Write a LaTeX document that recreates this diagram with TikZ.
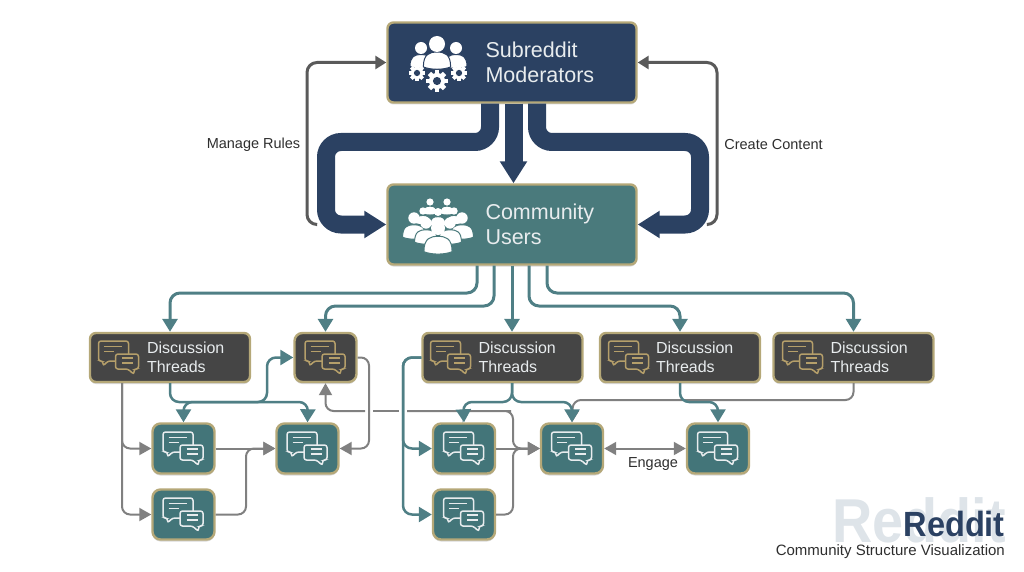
\documentclass[tikz,border=0pt]{standalone}
\usepackage{fontspec}
\setmainfont{Liberation Sans}
\usetikzlibrary{arrows.meta,shadows}

\definecolor{navy}{HTML}{2B4162}
\definecolor{tealbox}{HTML}{4A7A7C}
\definecolor{tealsmall}{HTML}{437579}
\definecolor{darkbox}{HTML}{454545}
\definecolor{tan}{HTML}{B5A878}
\definecolor{tanicon}{HTML}{B59F6A}
\definecolor{tealline}{HTML}{4F7F85}
\definecolor{greyline}{HTML}{808080}
\definecolor{greydark}{HTML}{5A5A5A}
\definecolor{ink}{HTML}{2E2E2E}
\definecolor{paletxt}{HTML}{E8ECEE}
\definecolor{ghost}{HTML}{DEE4E9}

\newcommand{\crowdman}[5]{
  \begin{scope}[shift={(#1,#2)}]
    \begin{scope}[scale=#3]
      \fill[white,draw=#4,line width=1pt] (-2.2,3.7) .. controls (-2.2,1.6) and (-1.2,1.3) .. (0,1.3)
        .. controls (1.2,1.3) and (2.2,1.6) .. (2.2,3.7) .. controls (1,4.2) and (-1,4.2) .. (-2.2,3.7) -- cycle;
    \end{scope}
    \fill[white] (0,0) circle (#5);
  \end{scope}
}
\newcommand{\gearwheel}[3]{
  \begin{scope}[shift={(#1,#2)},scale=#3]
    \foreach \a in {0,45,...,315}
      \fill[white,rotate=\a] (-.28,-1.25) rectangle (.28,0);
    \fill[white] (0,0) circle (.95);
    \fill[navy] (0,0) circle (.48);
  \end{scope}
}

\tikzset{
  box/.style={draw=tan,line width=2.4pt,rounded corners=6pt,inner sep=0pt,
    drop shadow={opacity=.3,shadow xshift=0pt,shadow yshift=-2pt}},
  mainbox/.style={box,minimum width=249pt,minimum height=80pt},
  threadbox/.style={box,fill=darkbox,minimum width=160pt,minimum height=49pt},
  chatbox/.style={box,fill=tealsmall,rounded corners=8pt,minimum width=62pt,minimum height=50pt},
  maintext/.style={anchor=west,align=left,text=paletxt,inner sep=0pt,font=\fontsize{21.5}{25}\selectfont},
  threadtext/.style={anchor=west,align=left,text=paletxt,inner sep=0pt,font=\fontsize{16}{19}\selectfont},
  sidetext/.style={text=ink,inner sep=0pt,font=\fontsize{14.5}{17}\selectfont},
  fat/.style={navy,line width=18pt,rounded corners=15pt,-{Triangle[length=22pt,width=26pt]}},
  tealmain/.style={tealline,line width=3pt,rounded corners=10pt,-{Triangle[length=13pt,width=15pt]}},
  tealarrow/.style={tealline,line width=2.5pt,rounded corners=9pt,-{Triangle[length=13pt,width=15pt]}},
  greyarrow/.style={greyline,line width=2pt,rounded corners=8pt,-{Triangle[length=12pt,width=13pt]}},
  backarrow/.style={greydark,line width=3pt,rounded corners=10pt,-{Triangle[length=11pt,width=13pt]}},
  pics/chaticon/.style n args={2}{code={
    \begin{scope}[draw=#1,line width=1.5pt,rounded corners=2.5pt]
      \draw (-20.5,-16.5) -- (9.5,-16.5) -- (9.5,3.5) -- (-11,3.5) -- (-16,8.5) -- (-16,3.5) -- (-20.5,3.5) -- cycle;
      \draw[fill=#2] (-3.5,-3.5) -- (19.5,-3.5) -- (19.5,11.5) -- (15,11.5) -- (15,17) -- (9,11.5) -- (-3.5,11.5) -- cycle;
      \draw[rounded corners=0pt] (-15,-11) -- (3,-11) (-15,-6) -- (-5,-6) (3,0.5) -- (14,0.5) (3,5.5) -- (14,5.5);
    \end{scope}
  }}
}

\begin{document}
\begin{tikzpicture}[x=1pt,y=-1pt]

  \useasboundingbox (0,0) rectangle (1024,572);

  \node[mainbox,fill=navy] (mo) at (512,62.5) {};
  \node[mainbox,fill=tealbox] (us) at (512,224.5) {};
  \node[maintext] (motx) at ([xshift=99pt]mo.west) {Subreddit\\Moderators};
  \node[maintext] (ustx) at ([xshift=99pt]us.west) {Community\\Users};

  \node[threadbox] (ta) at (170,357.5) {};
  \node[box,fill=darkbox,rounded corners=8pt,minimum width=62pt,minimum height=49pt] (tb) at (325.5,357.5) {};
  \node[threadbox] (tc) at (502.5,357.5) {};
  \node[threadbox] (td) at (680,357.5) {};
  \node[threadbox] (te) at (853.5,357.5) {};
  \node[threadtext] (tatx) at ([xshift=58pt]ta.west) {Discussion\\Threads};
  \node[threadtext] (tctx) at ([xshift=57pt]tc.west) {Discussion\\Threads};
  \node[threadtext] (tdtx) at ([xshift=57pt]td.west) {Discussion\\Threads};
  \node[threadtext] (tetx) at ([xshift=58pt]te.west) {Discussion\\Threads};

  \node[chatbox] (ca) at (183.5,448.5) {};
  \node[chatbox] (cb) at (307.5,448.5) {};
  \node[chatbox] (cc) at (183.5,514.5) {};
  \node[chatbox] (cd) at (464,448.5) {};
  \node[chatbox] (ce) at (464,514.5) {};
  \node[chatbox] (cf) at (572,448.5) {};
  \node[chatbox] (cg) at (718,448.5) {};

  \pic at (119,357.5) {chaticon={tanicon}{darkbox}};
  \pic at (325.5,357.5) {chaticon={tanicon}{darkbox}};
  \pic at (451,357.5) {chaticon={tanicon}{darkbox}};
  \pic at (629,357.5) {chaticon={tanicon}{darkbox}};
  \pic at (803,357.5) {chaticon={tanicon}{darkbox}};
  \pic at (183.5,448.5) {chaticon={paletxt}{tealsmall}};
  \pic at (307.5,448.5) {chaticon={paletxt}{tealsmall}};
  \pic at (183.5,514.5) {chaticon={paletxt}{tealsmall}};
  \pic at (464,448.5) {chaticon={paletxt}{tealsmall}};
  \pic at (464,514.5) {chaticon={paletxt}{tealsmall}};
  \pic at (572,448.5) {chaticon={paletxt}{tealsmall}};
  \pic at (718,448.5) {chaticon={paletxt}{tealsmall}};

  \crowdman{421}{48}{5}{navy}{6}
  \crowdman{456}{48}{5}{navy}{6}
  \crowdman{437}{44}{6.2}{navy}{8}
  \gearwheel{417}{73}{6.5}
  \gearwheel{459}{73}{6.5}
  \gearwheel{437}{81}{8.5}

  \crowdman{430}{202}{3.2}{tealbox}{3.6}
  \crowdman{447}{202}{3.2}{tealbox}{3.6}
  \crowdman{423}{211}{3.4}{tealbox}{3.7}
  \crowdman{454}{211}{3.4}{tealbox}{3.7}
  \crowdman{438}{212}{3.6}{tealbox}{4}
  \crowdman{414}{218}{5.2}{tealbox}{5.7}
  \crowdman{462}{218}{5.2}{tealbox}{5.7}
  \crowdman{426}{223}{5.2}{tealbox}{5.7}
  \crowdman{450}{223}{5.2}{tealbox}{5.7}
  \crowdman{438}{228}{6.4}{tealbox}{7}

  \draw[backarrow] ([xshift=-70pt]us.west) -| (307,62.5) -- (mo.west);
  \draw[backarrow] ([xshift=70pt]us.east) -| (717,62.5) -- (mo.east);
  \draw[fat] ([xshift=-22pt]mo.south) |- (326,142) |- (us.west);
  \draw[fat] ([xshift=25pt]mo.south) |- (700,142) |- (us.east);
  \draw[fat,rounded corners=0pt] ([xshift=1.5pt]mo.south) -- ([xshift=1.5pt]us.north);

  \node[sidetext] (manage) at (253.5,144.5) {Manage Rules};
  \node[sidetext] (create) at (773.5,144.5) {Create Content};

  \draw[tealmain] ([xshift=-35pt]us.south) |- (170,293) -- (ta.north);
  \draw[tealmain] ([xshift=-18pt]us.south) |- (325.5,306) -- (tb.north);
  \draw[tealmain] (us.south) -- (tc.north -| us.south);
  \draw[tealmain] ([xshift=17pt]us.south) |- (680,306) -- (td.north);
  \draw[tealmain] ([xshift=35pt]us.south) |- (853.5,293) -- (te.north);

  \coordinate (gapa) at (365,411);
  \coordinate (gapb) at (373,411);
  \coordinate (gapc) at (399,411);
  \coordinate (gapd) at (407,411);

  \draw[greyarrow] ([xshift=-48pt]ta.south) |- (ca.west);
  \draw[greyarrow] ([xshift=-48pt]ta.south) |- (cc.west);
  \draw[greyarrow] (tb.east) -| (369,448.5) -- (cb.east);
  \draw[greyarrow] (ca.east) -- (cb.west);
  \draw[greyarrow] (cc.east) -| (246,448.5) -- (cb.west);
  \draw[greyarrow] (gapa) -| (tb.south);
  \draw[greyline,line width=2pt] (gapb) -- (gapc);
  \draw[greyarrow] (gapd) -- (503,411) -- (513,411) |- (cf.west);
  \draw[greyarrow] (cd.east) -- (cf.west);
  \draw[greyarrow] (ce.east) -| (513,448.5) -- (cf.west);
  \draw[greyarrow] (te.south) |- (573,400) -- (cf.north);
  \draw[greyarrow,{Triangle[length=12pt,width=13pt]}-{Triangle[length=12pt,width=13pt]}] (cf.east) -- (cg.west);

  \draw[tealarrow] (ta.south) |- (308,402) -- (cb.north);
  \draw[tealarrow,{Triangle[length=13pt,width=15pt]}-{Triangle[length=13pt,width=15pt]}] (ca.north) |- (267,402) |- (tb.west);
  \draw[tealarrow] (tc.west) -| (403,448.5) -- (cd.west);
  \draw[tealarrow] (tc.west) -| (403,514.5) -- (ce.west);
  \draw[tealarrow] (tc.south -| us.south) |- (463,402) -- (cd.north);
  \draw[tealarrow] (tc.south -| us.south) |- (572,402) -- (cf.north);
  \draw[tealarrow] (td.south) |- (718,402) -- (cg.north);

  \node[sidetext] (engage) at (653,464) {Engage};

  \node[anchor=base east,inner sep=0pt,text=ghost,transform shape,xscale=.9,font=\fontsize{62}{62}\selectfont\bfseries] (ghostmark) at (1006,542) {Reddit};
  \node[anchor=base east,inner sep=0pt,text=navy,transform shape,xscale=.93,font=\fontsize{35}{35}\selectfont\bfseries] (brand) at (1005,536) {Reddit};
  \node[anchor=base east,inner sep=0pt,text=ink,font=\fontsize{15}{17}\selectfont] (subtitle) at (1005,555) {Community Structure Visualization};

\end{tikzpicture}
\end{document}
